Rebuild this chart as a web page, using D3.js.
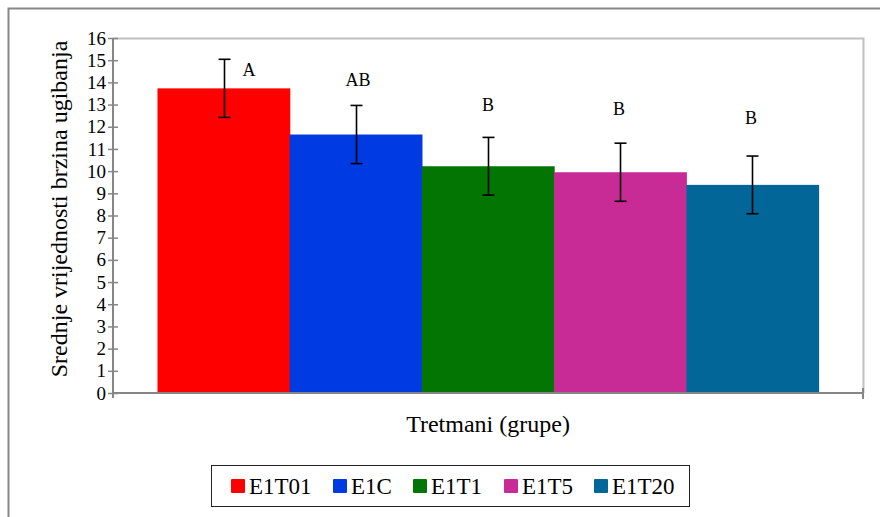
<!DOCTYPE html>
<html><head><meta charset="utf-8">
<script src="https://cdn.jsdelivr.net/npm/d3@7"></script>
<style>body{margin:0;background:#fff}svg{display:block}</style>
</head><body><svg id="c" width="880" height="517"></svg>
<script>
const groups = ["E1T01","E1C","E1T1","E1T5","E1T20"];
const means = [13.73, 11.65, 10.22, 9.95, 9.38];
const errors = [1.31, 1.31, 1.30, 1.31, 1.30];
const letters = ["A","AB","B","B","B"];
const colors = ["#ff0000","#003ae2","#037503","#c92b96","#026699"];
const yTicks = d3.range(0,17,1);

const FONT = "'Liberation Serif', 'DejaVu Serif', serif";
const svg = d3.select("#c").style("font-family",FONT);
const W=880,H=517;
svg.append("rect").attr("width",W).attr("height",H).attr("fill","#fff");
svg.append("rect").attr("x",8.5).attr("y",8.5).attr("width",W).attr("height",H)
  .attr("fill","none").attr("stroke","#888").attr("stroke-width",2);

const m={l:113,r:863,t:38,b:393};
const x0=d3.scaleBand().domain(["g"]).range([m.l,m.r]).paddingInner(0).paddingOuter(0.0673);
const x=d3.scaleBand().domain(groups).range([x0("g"), x0("g")+x0.bandwidth()]).padding(0);
const y=d3.scaleLinear().domain([0,16]).range([m.b,m.t]);

svg.append("path").attr("d",`M${m.l},${m.t+0.5}H${m.r+0.5}V${m.b}`).attr("fill","none").attr("stroke","#c0c0c0").attr("stroke-width",2);

svg.selectAll("rect.bar").data(groups).join("rect").attr("class","bar")
  .attr("x",d=>x(d)).attr("width",x.bandwidth()+0.6)
  .attr("y",(d,i)=>y(means[i])).attr("height",(d,i)=>y(0)-y(means[i]))
  .attr("fill",(d,i)=>colors[i]);

const eb=svg.append("g").attr("stroke","#000").attr("stroke-width",1.6);
groups.forEach((g,i)=>{
  const cx=Math.round(x(g)+x.bandwidth()/2)+0.5;
  const t=y(means[i]+errors[i]), b=y(means[i]-errors[i]);
  eb.append("line").attr("x1",cx).attr("x2",cx).attr("y1",t).attr("y2",b);
  eb.append("line").attr("x1",cx-6).attr("x2",cx+6).attr("y1",t).attr("y2",t);
  eb.append("line").attr("x1",cx-6).attr("x2",cx+6).attr("y1",b).attr("y2",b);
});

const lx=[249,358,488,619,751];
const ly=[76,86,111,115,124];
svg.selectAll("text.let").data(letters).join("text").attr("class","let")
  .attr("x",(d,i)=>lx[i]).attr("y",(d,i)=>ly[i]).attr("text-anchor","middle")
  .attr("font-family",FONT).attr("font-size",18).text(d=>d);

const ya=svg.append("g").attr("transform",`translate(${m.l},0)`)
  .call(d3.axisLeft(y).tickValues(yTicks).tickSize(5).tickPadding(2).tickFormat(d3.format("d")));
ya.attr("font-family",FONT);
ya.select(".domain").attr("stroke","#868686").attr("stroke-width",2).attr("d",`M0,${m.t}V${m.b+5}`);
ya.selectAll(".tick line").attr("stroke","#868686").attr("stroke-width",1.5).attr("x1",-5).attr("x2",5);
ya.selectAll(".tick text").attr("font-size",19).attr("font-family",FONT).attr("fill","#000");

const xa=svg.append("g").attr("transform",`translate(0,${m.b})`);
xa.append("line").attr("x1",m.l).attr("x2",m.r).attr("stroke","#868686").attr("stroke-width",2);
xa.append("line").attr("x1",m.r).attr("x2",m.r).attr("y1",-5).attr("y2",6).attr("stroke","#868686").attr("stroke-width",2);

svg.append("text").attr("transform",`translate(67,209) rotate(-90)`)
  .attr("font-family",FONT).attr("text-anchor","middle").attr("font-size",24).text("Srednje vrijednosti brzina ugibanja");
svg.append("text").attr("x",488).attr("y",432).attr("font-family",FONT).attr("text-anchor","middle").attr("font-size",24).text("Tretmani (grupe)");

svg.append("rect").attr("x",211.5).attr("y",465.5).attr("width",478).attr("height",41)
  .attr("fill","none").attr("stroke","#222").attr("stroke-width",1);
const legX=[231,333,413,504,594];
const lg=svg.selectAll("g.leg").data(groups).join("g").attr("class","leg")
  .attr("transform",(d,i)=>`translate(${legX[i]},479)`);
lg.append("rect").attr("width",14).attr("height",14).attr("rx",1).attr("fill",(d,i)=>colors[i]);
lg.append("text").attr("x",18).attr("y",15).attr("font-family",FONT).attr("font-size",23).text(d=>d);
</script></body></html>
